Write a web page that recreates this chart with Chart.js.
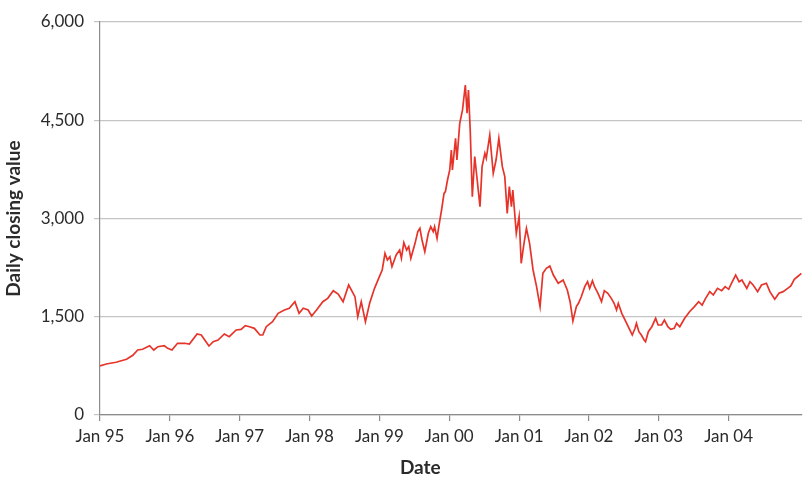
<!DOCTYPE html>
<html lang="en">
<head>
  <meta charset="UTF-8">
  <title>Daily closing value</title>
  <script src="https://cdn.jsdelivr.net/npm/chart.js"></script>
  <style>
    html, body { margin: 0; padding: 0; background: #fff; }
    #wrap { width: 809px; height: 489px; }
  </style>
</head>
<body>
  <div id="wrap"><canvas id="chart" width="809" height="489"></canvas></div>

  <script>
    // dates as decimal years (one row per year)
    const dates = [
      1995.00, 1995.09, 1995.23, 1995.38, 1995.47, 1995.54, 1995.61, 1995.71, 1995.77, 1995.83, 1995.92, 1995.97,
      1996.03, 1996.11, 1996.21, 1996.28, 1996.39, 1996.45, 1996.50, 1996.56, 1996.62, 1996.69, 1996.78, 1996.85, 1996.95,
      1997.02, 1997.08, 1997.14, 1997.21, 1997.29, 1997.33, 1997.38, 1997.47, 1997.55, 1997.64, 1997.71, 1997.79, 1997.85, 1997.91, 1997.98,
      1998.03, 1998.10, 1998.19, 1998.26, 1998.34, 1998.41, 1998.48, 1998.56, 1998.65, 1998.69, 1998.74, 1998.80, 1998.86, 1998.93,
      1999.00, 1999.04, 1999.08, 1999.115, 1999.15, 1999.18, 1999.24, 1999.29, 1999.315, 1999.35, 1999.39, 1999.42, 1999.45, 1999.51,
      1999.55, 1999.58, 1999.61, 1999.65, 1999.70, 1999.735, 1999.77, 1999.79, 1999.825, 1999.85, 1999.89, 1999.925, 1999.945, 1999.975,
      2000.007, 2000.03, 2000.045, 2000.09, 2000.11, 2000.15, 2000.19, 2000.23, 2000.255, 2000.275, 2000.30, 2000.33, 2000.365, 2000.40,
      2000.44, 2000.47, 2000.51, 2000.53, 2000.58, 2000.63, 2000.67, 2000.71, 2000.76, 2000.795, 2000.83, 2000.86, 2000.89, 2000.91, 2000.96,
      2001.00, 2001.03, 2001.07, 2001.105, 2001.15, 2001.20, 2001.25, 2001.30, 2001.34, 2001.39, 2001.44,
      2001.49, 2001.56, 2001.63, 2001.69, 2001.73, 2001.77, 2001.82, 2001.85, 2001.89, 2001.94, 2001.98,
      2002.01, 2002.05, 2002.08, 2002.13, 2002.18, 2002.22, 2002.27, 2002.32, 2002.36, 2002.395, 2002.42, 2002.47, 2002.54,
      2002.585, 2002.62, 2002.66, 2002.68, 2002.715, 2002.75, 2002.79, 2002.81, 2002.85, 2002.90, 2002.955, 2002.99,
      2003.04, 2003.08, 2003.13, 2003.17, 2003.22, 2003.255, 2003.30, 2003.37, 2003.44,
      2003.51, 2003.57, 2003.62, 2003.67, 2003.73, 2003.78, 2003.84, 2003.90, 2003.95,
      2004.00, 2004.04, 2004.10, 2004.15, 2004.19, 2004.26, 2004.305, 2004.35, 2004.415, 2004.47,
      2004.54, 2004.59, 2004.66, 2004.72, 2004.78, 2004.845, 2004.89, 2004.94, 2004.997, 2005.04
    ];
    const closes = [
      750, 779, 805, 850, 911, 992, 1003, 1058, 992, 1043, 1058, 1018,
      992, 1095, 1095, 1084, 1237, 1221, 1145, 1053, 1119, 1145, 1237, 1196, 1298,
      1308, 1364, 1348, 1323, 1221, 1221, 1348, 1425, 1552, 1603, 1629, 1730, 1552, 1629, 1603,
      1512, 1603, 1730, 1781, 1898, 1847, 1730, 1985, 1806, 1501, 1730, 1425, 1705, 1934,
      2112, 2214, 2468, 2367, 2417, 2264, 2443, 2519, 2392, 2631, 2519, 2570, 2392, 2621,
      2799, 2850, 2672, 2493, 2774, 2875, 2799, 2875, 2697, 2875, 3130, 3384, 3410, 3588,
      3741, 4046, 3741, 4224, 3893, 4453, 4657, 5038, 4606, 4962, 4351, 3333, 3944, 3588,
      3181, 3791, 3995, 3919, 4275, 3690, 3893, 4224, 3791, 3639, 3079, 3486, 3181, 3435, 2774,
      3028, 2316, 2621, 2850, 2621, 2214, 1959, 1654, 2163, 2239, 2275,
      2137, 2011, 2061, 1908, 1730, 1435, 1654, 1705, 1806, 1959, 2035,
      1934, 2050, 1959, 1858, 1730, 1898, 1858, 1781, 1705, 1603, 1705, 1552, 1400,
      1298, 1221, 1323, 1400, 1272, 1221, 1145, 1119, 1272, 1348, 1476, 1374,
      1374, 1450, 1348, 1308, 1323, 1400, 1348, 1476, 1577,
      1654, 1730, 1679, 1781, 1883, 1832, 1934, 1898, 1959,
      1919, 2011, 2137, 2035, 2061, 1934, 2035, 1985, 1883, 1985,
      2011, 1883, 1766, 1858, 1883, 1934, 1970, 2072, 2122, 2163
    ];
    const tickYears = [1995, 1996, 1997, 1998, 1999, 2000, 2001, 2002, 2003, 2004];
    const tickLabels = ['Jan 95', 'Jan 96', 'Jan 97', 'Jan 98', 'Jan 99', 'Jan 00', 'Jan 01', 'Jan 02', 'Jan 03', 'Jan 04'];
    const yTicks = [0, 1500, 3000, 4500, 6000];

    const FONT = 'Lato, "DejaVu Sans", sans-serif';
    const TEXT = '#2b2b2b';

    // x axis title drawn under the tick labels
    const dateTitle = {
      id: 'dateTitle',
      afterDraw(chart) {
        const ctx = chart.ctx;
        const xs = chart.scales.x;
        const mid = xs.getPixelForValue((tickYears[0] + tickYears[tickYears.length - 1]) / 2);
        ctx.save();
        ctx.font = 'bold 19px ' + FONT;
        ctx.fillStyle = TEXT;
        ctx.textAlign = 'center';
        ctx.textBaseline = 'middle';
        ctx.fillText('Date', mid + 6, xs.bottom - 21);
        ctx.restore();
      }
    };

    new Chart(document.getElementById('chart'), {
      type: 'line',
      data: {
        datasets: [{
          data: dates.map((d, i) => ({ x: d, y: closes[i] })),
          borderColor: '#e6342a',
          borderWidth: 1.7,
          pointRadius: 0,
          tension: 0,
          fill: false
        }]
      },
      options: {
        responsive: false,
        animation: false,
        layout: { padding: { top: 22, right: 7, left: 0, bottom: 0 } },
        plugins: { legend: { display: false }, tooltip: { enabled: false } },
        scales: {
          x: {
            type: 'linear',
            min: 1995,
            max: 2005.05,
            afterFit: s => { s.height = 74; },
            afterBuildTicks: s => { s.ticks = tickYears.map(v => ({ value: v })); },
            ticks: {
              font: { family: FONT, size: 17 },
              color: TEXT,
              padding: 5,
              maxRotation: 0,
              callback: v => tickLabels[tickYears.indexOf(v)]
            },
            grid: { drawOnChartArea: false, drawTicks: true, tickLength: 6, color: '#8c8c8c', lineWidth: 1.2 },
            border: { display: true, color: '#8c8c8c', width: 1.2 }
          },
          y: {
            min: 0,
            max: 6000,
            afterFit: s => { s.width = 100; },
            afterBuildTicks: s => { s.ticks = yTicks.map(v => ({ value: v })); },
            ticks: {
              font: { family: FONT, size: 17 },
              color: TEXT,
              padding: 10,
              callback: v => v.toLocaleString('en-US')
            },
            grid: { color: '#c4c4c4', lineWidth: 1.2, tickLength: 6 },
            border: { display: true, color: '#8c8c8c', width: 1.2 },
            title: {
              display: true,
              text: 'Daily closing value',
              font: { family: FONT, size: 19, weight: 'bold' },
              color: TEXT,
              padding: { top: 2, bottom: 0 }
            }
          }
        }
      },
      plugins: [dateTitle]
    });
  </script>
</body>
</html>
